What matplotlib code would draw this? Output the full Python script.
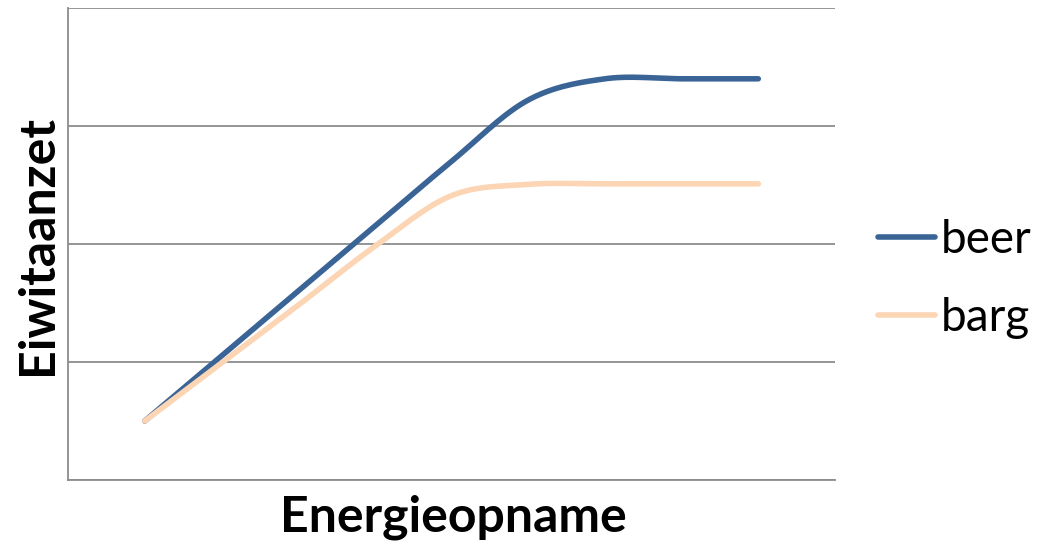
import numpy as np
import matplotlib
matplotlib.use("Agg")
import matplotlib.pyplot as plt

x_values = [1, 2, 3, 4, 5, 6, 7, 8, 9]
beer = [0.5, 1.05, 1.6, 2.15, 2.7, 3.22, 3.40, 3.40, 3.40]
barg = [0.5, 0.99, 1.48, 1.98, 2.41, 2.505, 2.51, 2.51, 2.51]
series_names = ["beer", "barg"]
colors = ["#3A6496", "#FCD5B5"]
x_label = "Energieopname"
y_label = "Eiwitaanzet"


def smooth(xs, ys, n=30):
    xs = np.asarray(xs, float)
    ys = np.asarray(ys, float)
    px = np.concatenate([[xs[0]], xs, [xs[-1]]])
    py = np.concatenate([[ys[0]], ys, [ys[-1]]])
    outx, outy = [], []
    t = np.linspace(0, 1, n)
    for i in range(1, len(px) - 2):
        for arr, out in ((px, outx), (py, outy)):
            p0, p1, p2, p3 = arr[i - 1], arr[i], arr[i + 1], arr[i + 2]
            c1 = p1 + (p2 - p0) / 6.0
            c2 = p2 - (p3 - p1) / 6.0
            seg = ((1 - t) ** 3 * p1 + 3 * (1 - t) ** 2 * t * c1
                   + 3 * (1 - t) * t ** 2 * c2 + t ** 3 * p2)
            out.extend(seg.tolist())
    return np.array(outx), np.array(outy)


W, H = 1041, 545
fig = plt.figure(figsize=(W / 100, H / 100), dpi=100)
ax = fig.add_axes([68 / W, (H - 480) / H, (835 - 68) / W, (480 - 8) / H])

handles = []
for name, vals, c in zip(series_names, [beer, barg], colors):
    sx, sy = smooth(x_values, vals)
    h, = ax.plot(sx, sy, color=c, lw=4, solid_capstyle="round", label=name)
    handles.append(h)

ax.set_xlim(0, 10)
ax.set_ylim(0, 4)
ax.set_yticks([0, 1, 2, 3, 4])
ax.set_xticks([])
ax.tick_params(axis="y", length=0, labelleft=False)
ax.yaxis.grid(True, color="#8C8C8C", lw=1.3)
ax.set_axisbelow(True)
for s in ["top", "right"]:
    ax.spines[s].set_visible(False)
for s in ["left", "bottom"]:
    ax.spines[s].set_color("#8C8C8C")
    ax.spines[s].set_linewidth(1.3)

font = ["Lato", "DejaVu Sans"]
fig.text(453 / W, 1 - 531 / H, x_label, fontsize=36, fontweight="bold", family=font,
         ha="center", va="baseline")
fig.text(52 / W, 1 - 245 / H, y_label, fontsize=36, fontweight="bold", family=font,
         ha="center", va="baseline", rotation=90, rotation_mode="anchor")

leg = ax.legend(handles=handles, loc="center left", bbox_to_anchor=(878 / W, 1 - 279 / H),
                bbox_transform=fig.transFigure, frameon=False,
                prop={"family": font, "size": 33}, handlelength=1.25, handletextpad=0.12,
                labelspacing=0.78, borderpad=0, borderaxespad=0)

fig.savefig("out.png", dpi=100)
